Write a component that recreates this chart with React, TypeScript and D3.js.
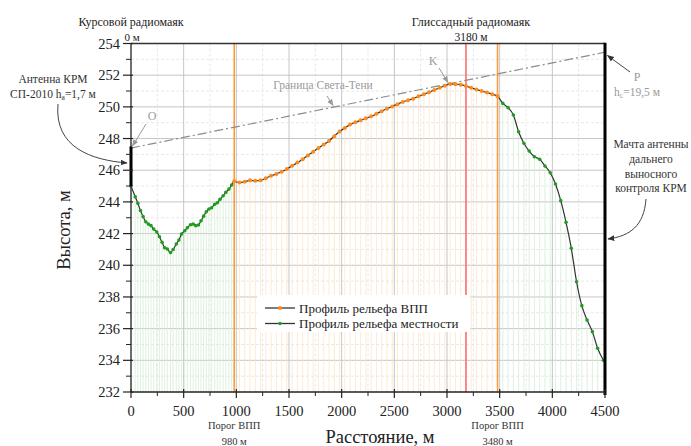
import React from "react";
import * as d3 from "d3";

// Terrain profile before the runway threshold (distance, m / height, m)
const terrainStartDist = [0, 40, 65, 90, 115, 140, 165, 190, 215, 245, 270, 295, 320, 345, 375, 400, 430, 455, 480, 510, 535, 565, 590, 615, 640, 665, 690, 715, 740, 765, 795, 820, 845, 875, 900, 930, 955, 980];
const terrainStartH = [245.0, 244.33, 243.91, 243.45, 243.07, 242.75, 242.6, 242.5, 242.29, 242.1, 241.8, 241.45, 241.11, 241.03, 240.8, 241.0, 241.34, 241.6, 241.97, 242.18, 242.37, 242.56, 242.6, 242.5, 242.54, 242.81, 243.1, 243.38, 243.55, 243.63, 243.85, 243.95, 244.16, 244.39, 244.6, 244.81, 245.07, 245.3];

// Runway profile (980 m .. 3480 m)
const runwayDist = [980, 1030, 1080, 1130, 1180, 1230, 1280, 1330, 1380, 1430, 1480, 1530, 1580, 1630, 1680, 1730, 1780, 1830, 1880, 1930, 1980, 2030, 2080, 2130, 2180, 2230, 2280, 2330, 2380, 2430, 2480, 2530, 2580, 2630, 2680, 2730, 2780, 2830, 2880, 2930, 2980, 3030, 3080, 3130, 3180, 3230, 3280, 3330, 3380, 3430, 3480];
const runwayH = [245.3, 245.22, 245.27, 245.36, 245.33, 245.36, 245.5, 245.65, 245.76, 245.9, 246.08, 246.28, 246.48, 246.7, 246.93, 247.17, 247.4, 247.62, 247.85, 248.15, 248.45, 248.67, 248.88, 249.03, 249.15, 249.28, 249.4, 249.56, 249.73, 249.88, 250.03, 250.17, 250.31, 250.42, 250.52, 250.67, 250.8, 250.92, 251.07, 251.2, 251.34, 251.44, 251.42, 251.4, 251.32, 251.2, 251.09, 251.0, 250.9, 250.8, 250.67];

// Terrain profile beyond the far threshold
const terrainEndDist = [3480, 3530, 3580, 3630, 3680, 3730, 3780, 3830, 3880, 3930, 3980, 4030, 4080, 4130, 4180, 4230, 4280, 4330, 4380, 4430, 4485];
const terrainEndH = [250.67, 250.22, 249.95, 249.49, 248.43, 247.7, 247.21, 246.85, 246.69, 246.27, 245.84, 245.13, 244.08, 242.71, 241.07, 238.96, 237.45, 236.54, 235.81, 234.76, 234.0];

// Light/shadow boundary line: from antenna top (0 m) to mast top (4500 m)
const boundaryDist = [0, 4500];
const boundaryH = [247.4, 253.45];

const xTicks = [0, 500, 1000, 1500, 2000, 2500, 3000, 3500, 4000, 4500];
const yTicks = [232, 234, 236, 238, 240, 242, 244, 246, 248, 250, 252, 254];

const thresholdDists = [980, 3480];
const glideBeaconDist = 3180;

const antennaBase = 245.0;
const antennaTop = 247.5;

type P = [number, number];
const zip = (a: number[], b: number[]): P[] => a.map((v, i) => [v, b[i]]);

const FONT = "'Times New Roman', 'Liberation Serif', 'DejaVu Serif', serif";

export default function App() {
  const x = d3.scaleLinear().domain([0, 4500]).range([131, 605]);
  const y = d3.scaleLinear().domain([232, 254]).range([392, 43.5]);

  const t1 = zip(terrainStartDist, terrainStartH);
  const rw = zip(runwayDist, runwayH);
  const t2 = zip(terrainEndDist, terrainEndH);
  const all: P[] = [...t1.slice(0, -1), ...rw, ...t2.slice(1)];

  const line = d3
    .line<P>()
    .x((d) => x(d[0]))
    .y((d) => y(d[1]))
    .curve(d3.curveMonotoneX);

  const xMinor = d3.range(250, 4500, 250).filter((v) => v % 500 !== 0);
  const yMinor = d3.range(233, 254, 2);
  const x0 = x(0), x1 = x(4500), yB = y(232), yT = y(254);

  const greenPts = [...t1.slice(0, -1), ...t2.slice(1)];

  return (
    <svg width={691} height={446} style={{ position: "absolute", left: 0, top: 0, background: "#fff" }} fontFamily={FONT}>
      <defs>
        <marker id="ahGray" viewBox="0 0 10 10" refX="9" refY="5" markerWidth="7" markerHeight="7" orient="auto">
          <path d="M0,1 L10,5 L0,9 z" fill="#9a9a9a" />
        </marker>
        <marker id="ahDark" viewBox="0 0 10 10" refX="9" refY="5" markerWidth="7" markerHeight="7" orient="auto">
          <path d="M0,1 L10,5 L0,9 z" fill="#333" />
        </marker>
      </defs>

      {/* minor grid */}
      {xMinor.map((v) => (
        <line key={"xm" + v} x1={x(v)} x2={x(v)} y1={yT} y2={yB} stroke="#e2e2e2" strokeWidth={0.8} strokeDasharray="3,2" />
      ))}
      {yMinor.map((v) => (
        <line key={"ym" + v} x1={x0} x2={x1} y1={y(v)} y2={y(v)} stroke="#e2e2e2" strokeWidth={0.8} strokeDasharray="3,2" />
      ))}
      {/* major grid */}
      {xTicks.slice(1, -1).map((v) => (
        <line key={"xg" + v} x1={x(v)} x2={x(v)} y1={yT} y2={yB} stroke="#c6c6c6" strokeWidth={1} />
      ))}
      {yTicks.slice(1, -1).map((v) => (
        <line key={"yg" + v} x1={x0} x2={x1} y1={y(v)} y2={y(v)} stroke="#c6c6c6" strokeWidth={1} />
      ))}

      {/* drop lines */}
      {greenPts.map((d, i) => (
        <line key={"gd" + i} x1={x(d[0])} x2={x(d[0])} y1={y(d[1])} y2={yB} stroke="#d6eed6" strokeWidth={0.8} />
      ))}
      {rw.map((d, i) => (
        <line key={"od" + i} x1={x(d[0])} x2={x(d[0])} y1={y(d[1])} y2={yB} stroke="#ffe4c8" strokeWidth={0.8} />
      ))}

      {/* thresholds and glide beacon */}
      {thresholdDists.map((v) => (
        <line key={"th" + v} x1={x(v)} x2={x(v)} y1={yT} y2={yB} stroke="#ff9a3a" strokeWidth={1.6} />
      ))}
      <line x1={x(glideBeaconDist)} x2={x(glideBeaconDist)} y1={yT} y2={yB} stroke="#ff6e6e" strokeWidth={1.6} />

      {/* light/shadow boundary */}
      <line
        x1={x(boundaryDist[0])} y1={y(boundaryH[0])} x2={x(boundaryDist[1])} y2={y(boundaryH[1])}
        stroke="#8c8c8c" strokeWidth={1.2} strokeDasharray="9,3,2,3"
      />

      {/* profile */}
      <path d={line(all) || ""} fill="none" stroke="#333" strokeWidth={1.2} />
      {greenPts.map((d, i) => (
        <circle key={"gp" + i} cx={x(d[0])} cy={y(d[1])} r={1.8} fill="#1e9e1e" />
      ))}
      {rw.map((d, i) => (
        <circle key={"op" + i} cx={x(d[0])} cy={y(d[1])} r={2} fill="#ff8a1a" />
      ))}

      {/* frame and axes */}
      <line x1={x0} x2={x1} y1={yT} y2={yT} stroke="#333" strokeWidth={1.6} />
      <line x1={x1} x2={x1} y1={yT - 0.8} y2={yB + 3} stroke="#000" strokeWidth={3} />
      <line x1={x0} x2={x0} y1={yT} y2={yB} stroke="#222" strokeWidth={1.3} />
      <line x1={x0} x2={x0} y1={y(antennaBase)} y2={y(antennaTop)} stroke="#000" strokeWidth={3} />
      <line x1={x0} x2={x1} y1={yB} y2={yB} stroke="#222" strokeWidth={1.3} />

      {/* y ticks */}
      {yTicks.map((v) => (
        <g key={"yt" + v}>
          <line x1={x0 - 8} x2={x0 + 2} y1={y(v)} y2={y(v)} stroke="#222" strokeWidth={1.2} />
          <text x={x0 - 11} y={y(v) + 5} textAnchor="end" fontSize={14.5} fill="#222">{v}</text>
        </g>
      ))}
      {yMinor.map((v) => (
        <line key={"ymt" + v} x1={x0 - 5} x2={x0} y1={y(v)} y2={y(v)} stroke="#222" strokeWidth={1} />
      ))}
      {/* x ticks */}
      {xTicks.map((v) => (
        <g key={"xt" + v}>
          <line x1={x(v)} x2={x(v)} y1={yB - 3} y2={yB + 6} stroke="#222" strokeWidth={1.2} />
          <text x={x(v)} y={yB + 24} textAnchor="middle" fontSize={14.5} fill="#222">{v}</text>
        </g>
      ))}
      {xMinor.map((v) => (
        <line key={"xmt" + v} x1={x(v)} x2={x(v)} y1={yB} y2={yB + 4} stroke="#222" strokeWidth={1} />
      ))}

      {/* axis titles */}
      <text x={380} y={443} textAnchor="middle" fontSize={18.5} fill="#222">Расстояние, м</text>
      <text transform="translate(70,230) rotate(-90)" textAnchor="middle" fontSize={18.5} fill="#222">Высота, м</text>

      {/* top annotations */}
      <text x={131} y={26} textAnchor="middle" fontSize={12} fill="#222">Курсовой радиомаяк</text>
      <text x={132} y={41} textAnchor="middle" fontSize={11} fill="#222">0 м</text>
      <text x={471} y={26} textAnchor="middle" fontSize={12} fill="#222">Глиссадный радиомаяк</text>
      <text x={471} y={41} textAnchor="middle" fontSize={11.5} fill="#222">3180 м</text>

      {/* threshold labels */}
      {thresholdDists.map((v) => (
        <g key={"tl" + v}>
          <text x={x(v)} y={429} textAnchor="middle" fontSize={10.5} fill="#333">Порог ВПП</text>
          <text x={x(v)} y={445} textAnchor="middle" fontSize={10.5} fill="#333">{v} м</text>
        </g>
      ))}

      {/* antenna note */}
      <text x={53} y={83} textAnchor="middle" fontSize={11.5} fill="#333">Антенна КРМ</text>
      <text x={53} y={98} textAnchor="middle" fontSize={11.5} fill="#333">
        СП-2010 h<tspan fontSize={7.5} dy={2}>а</tspan><tspan dy={-2}>=1,7 м</tspan>
      </text>
      <path d="M58,104 C54,148 92,160 127,163" fill="none" stroke="#444" strokeWidth={1} markerEnd="url(#ahDark)" />

      {/* point O */}
      <text x={152} y={120} textAnchor="middle" fontSize={12} fill="#9a9a9a">O</text>
      <line x1={146} y1={124} x2={132.5} y2={146} stroke="#9a9a9a" strokeWidth={1} markerEnd="url(#ahGray)" />

      {/* boundary label */}
      <text x={323} y={89} textAnchor="middle" fontSize={11.5} fill="#9a9a9a">Граница Света-Тени</text>
      <line x1={327} y1={96} x2={333} y2={105.5} stroke="#9a9a9a" strokeWidth={1} markerEnd="url(#ahGray)" />

      {/* point K */}
      <text x={433} y={65} textAnchor="middle" fontSize={12} fill="#9a9a9a">K</text>
      <line x1={439} y1={68} x2={448} y2={82.5} stroke="#9a9a9a" strokeWidth={1} markerEnd="url(#ahGray)" />

      {/* point P */}
      <text x={637} y={81} textAnchor="middle" fontSize={12} fill="#9a9a9a">P</text>
      <text x={637} y={96} textAnchor="middle" fontSize={11.5} fill="#9a9a9a">
        h<tspan fontSize={7.5} dy={2}>с</tspan><tspan dy={-2}>=19,5 м</tspan>
      </text>
      <line x1={630} y1={72} x2={607.5} y2={55.5} stroke="#444" strokeWidth={1} markerEnd="url(#ahDark)" />

      {/* mast note */}
      {["Мачта антенны", "дальнего", "выносного", "контроля КРМ"].map((s, i) => (
        <text key={s} x={651} y={148 + i * 14.8} textAnchor="middle" fontSize={11.5} fill="#333">{s}</text>
      ))}
      <path d="M646,199 C644,226 630,236 608,239" fill="none" stroke="#444" strokeWidth={1} markerEnd="url(#ahDark)" />

      {/* legend */}
      <rect x={257} y={295} width={213} height={37} fill="#fff" />
      <line x1={265} x2={295} y1={308} y2={308} stroke="#333" strokeWidth={1.3} />
      <circle cx={280} cy={308} r={2} fill="#ff8a1a" />
      <text x={299} y={312.5} fontSize={13} fill="#222">Профиль рельефа ВПП</text>
      <line x1={265} x2={295} y1={323.5} y2={323.5} stroke="#333" strokeWidth={1.3} />
      <circle cx={280} cy={323.5} r={1.8} fill="#1e9e1e" />
      <text x={299} y={328} fontSize={13} fill="#222">Профиль рельефа местности</text>
    </svg>
  );
}
